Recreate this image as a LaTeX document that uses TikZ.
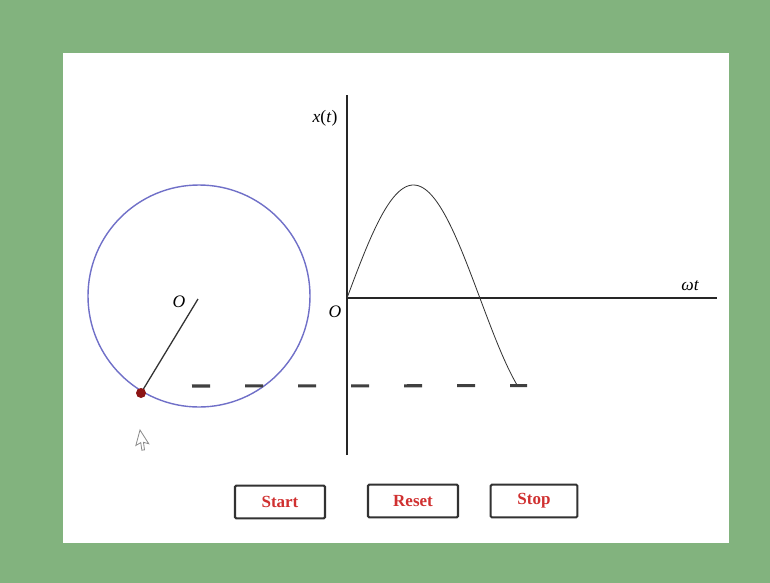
\documentclass[tikz,border=0pt]{standalone}
\usepackage{fontspec}
\setmainfont{Liberation Serif}
\definecolor{framegreen}{RGB}{130,179,126}
\definecolor{wheelblue}{RGB}{112,112,200}
\definecolor{dotred}{RGB}{140,20,20}
\definecolor{btnred}{RGB}{208,48,48}
\definecolor{btnedge}{RGB}{50,50,50}
\begin{document}
\begin{tikzpicture}[x=0.03cm, y=-0.03cm]
    \tikzstyle{axis} = [line width=2.4pt, draw=black!85]
    \tikzstyle{label} = [font=\fontsize{15}{17}\selectfont\itshape, inner sep=1pt]
    \tikzstyle{button} = [rectangle, rounded corners=1pt, draw=btnedge, line width=1.8pt,
      minimum width=2.7cm, minimum height=0.98cm, fill=white,
      text=btnred, font=\fontsize{14.5}{16}\selectfont\bfseries]
    \tikzstyle{guide} = [line width=2.6pt, draw=black!75, dash pattern=on 0.54cm off 1.05cm]

    % frame and panel
    \useasboundingbox[fill=framegreen] (0,0) rectangle (770,583);
    \fill[white] (63,53) rectangle (729,543);

    % rotating vector
    \coordinate (centre) at (199,296);
    \draw[wheelblue, line width=1.2pt] (centre) circle[radius=111];
    \coordinate (hub) at (198,299);
    \coordinate (rim) at (141,393);
    \draw[line width=1.1pt, black!80] (hub) -- (rim);
    \fill[dotred] (rim) circle[radius=5];
    \node (centrelabel) [label] at (179,302) {O};

    % axes
    \coordinate (origin) at (347,298);
    \coordinate (ytop) at (347,95);
    \coordinate (ybottom) at (347,455);
    \coordinate (xend) at (717,298);
    \draw[axis] (ybottom) -- (ytop);
    \draw[axis] (origin) -- (xend);
    \node (ylabel) [label] at (325,118) {x\textup{(}t\textup{)}};
    \node (xlabel) [label] at (690,286) {ωt};
    \node (originlabel) [label] at (335,312) {O};

    % displacement curve
    \draw[line width=0.7pt, black!80] plot[domain=0:4.03, samples=90, variable=\t]
      ({347+42.3*\t}, {298-113*sin(\t r)}) coordinate (curveend);
    \coordinate (dashstart) at (192,386);
    \draw[guide] (dashstart) -- (curveend -| 527,0);

    % mouse pointer
    \draw[black!45, fill=white, line width=0.7pt, rotate around={-15:(140,430)}]
      (140,430) -- (140,446) -- (144,442) -- (147,449) -- (149.5,448) -- (146.5,441) -- (152,441) -- cycle;

    % controls
    \node (start) [button] at (280,502) {Start};
    \node (reset) [button] at (413,501) {Reset};
    \node (stop) [button, minimum width=2.6cm] at (534,501) {Stop};
\end{tikzpicture}
\end{document}
